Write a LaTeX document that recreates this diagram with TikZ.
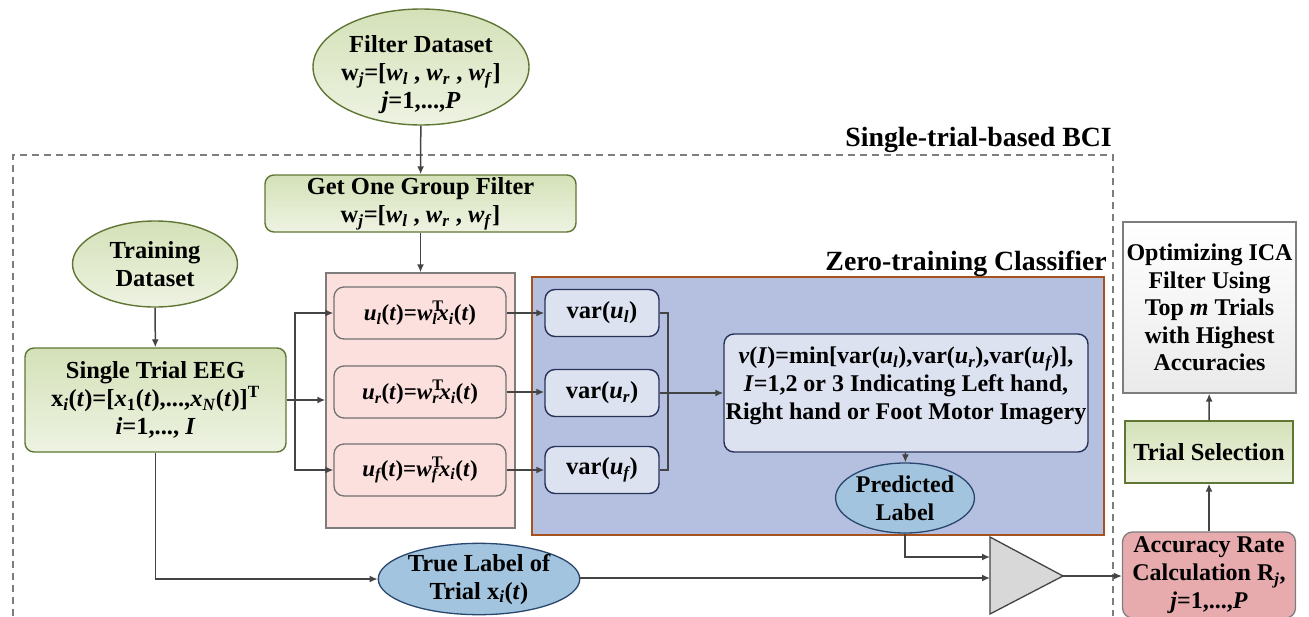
\documentclass[tikz,border=0pt]{standalone}
\usepackage{fontspec}
\setmainfont{Liberation Serif}
\usetikzlibrary{shapes.geometric,arrows.meta,calc}

\definecolor{olivedraw}{RGB}{96,118,52}
\definecolor{greentop}{RGB}{212,225,184}
\definecolor{greenbot}{RGB}{238,243,226}
\definecolor{pinkfill}{RGB}{252,224,222}
\definecolor{graydraw}{RGB}{125,125,125}
\definecolor{bluefill}{RGB}{181,191,223}
\definecolor{browndraw}{RGB}{165,82,30}
\definecolor{varfill}{RGB}{221,226,241}
\definecolor{navydraw}{RGB}{38,50,88}
\definecolor{labfill}{RGB}{163,196,222}
\definecolor{labdraw}{RGB}{40,70,110}
\definecolor{cmpfill}{RGB}{216,216,216}
\definecolor{accfill}{RGB}{232,171,173}
\definecolor{optbot}{RGB}{234,234,234}
\definecolor{linecol}{RGB}{68,68,68}

\newcommand\sbs[1]{\textsubscript{#1}}
\newcommand\sps[1]{\textsuperscript{#1}}
\newcommand\wsubT[1]{\textit{w}\makebox[0pt][l]{\sps{T}}\sbs{\textit{#1}}}

\tikzset{
  base/.style={align=center, inner sep=0pt, font=\fontsize{24.5}{28}\selectfont\bfseries},
  greenbox/.style={base, rectangle, rounded corners=9pt, draw=olivedraw, line width=1.4pt,
    top color=greentop, bottom color=greenbot},
  greenell/.style={base, ellipse, draw=olivedraw, line width=1.4pt,
    top color=greentop, bottom color=greenbot},
  ubox/.style={base, rectangle, rounded corners=10pt, draw=graydraw!90!black, line width=1.3pt,
    fill=pinkfill, font=\fontsize{23}{28}\selectfont\bfseries},
  varbox/.style={base, rectangle, rounded corners=10pt, draw=navydraw, line width=1.4pt, fill=varfill},
  labell/.style={base, ellipse, draw=labdraw, line width=1.3pt, fill=labfill},
  titletxt/.style={inner sep=0pt, font=\fontsize{27.8}{32}\selectfont\bfseries},
  arr/.style={draw=linecol, line width=1.5pt, -{Latex[length=8pt,width=7pt]}},
  wire/.style={draw=linecol, line width=1.5pt},
}

\begin{document}
\begin{tikzpicture}[x=1pt,y=-1pt]
\useasboundingbox (0,0) rectangle (1309,616);

% outer dashed frame of the single-trial BCI
\draw[graydraw, line width=1.3pt, dash pattern=on 7pt off 5pt]
  (13,616) -- (13,155) -- (1113,155) -- (1113,616);
\node[titletxt, anchor=east] (bcititle) at (1112,140) {Single-trial-based BCI};

% filter dataset and filter selection
\node[greenell, minimum width=216pt, minimum height=116pt] (filterds) at (421,67) {};
\node[base] (filtertxt) at (421,75)
  {Filter Dataset\\ w\sbs{\textit{j}}=[\textit{w}\sbs{\textit{l}} , \textit{w}\sbs{\textit{r}} , \textit{w}\sbs{\textit{f}}]\\ \textit{j}=1,...,\textit{P}};
\node[greenbox, minimum width=311pt, minimum height=57pt] (getone) at (420.5,203.5)
  {Get One Group Filter\\ w\sbs{\textit{j}}=[\textit{w}\sbs{\textit{l}} , \textit{w}\sbs{\textit{r}} , \textit{w}\sbs{\textit{f}}]};

% training data
\node[greenell, minimum width=165pt, minimum height=86pt] (trainds) at (155,264)
  {Training\\ Dataset};
\node[greenbox, minimum width=261pt, minimum height=104pt] (eeg) at (155.5,400)
  {Single Trial EEG\\
   x\sbs{\textit{i}}(\textit{t})=[\textit{x}\sbs{1}(\textit{t}),...,\textit{x}\sbs{\textit{N}}(\textit{t})]\sps{T}\\
   \textit{i}=1,..., \textit{I}};

% spatial filtering stage
\node[rectangle, draw=graydraw, line width=1.3pt, fill=pinkfill,
      minimum width=189pt, minimum height=255pt, inner sep=0pt] (pinkbox) at (420.5,400.5) {};
\node[ubox, minimum width=172pt, minimum height=52pt] (ul) at (420,313)
  {\textit{u\sbs{l}}(\textit{t})=\wsubT{l}\textit{x\sbs{i}}(\textit{t})};
\node[ubox, minimum width=172pt, minimum height=52pt] (ur) at (420,392)
  {\textit{u\sbs{r}}(\textit{t})=\wsubT{r}\textit{x\sbs{i}}(\textit{t})};
\node[ubox, minimum width=172pt, minimum height=52pt] (uf) at (420,470)
  {\textit{u\sbs{f}}(\textit{t})=\wsubT{f}\textit{x\sbs{i}}(\textit{t})};

% zero-training classifier
\node[rectangle, draw=browndraw, line width=1.4pt, fill=bluefill,
      minimum width=572pt, minimum height=258pt, inner sep=0pt] (zerobox) at (818,406) {};
\node[titletxt, anchor=east] (zerotitle) at (1107,264) {Zero-training Classifier};

\node[varbox, minimum width=114pt, minimum height=47pt] (vl) at (602,313)
  {var(\textit{u\sbs{l}})};
\node[varbox, minimum width=114pt, minimum height=47pt] (vr) at (602,393)
  {var(\textit{u\sbs{r}})};
\node[varbox, minimum width=114pt, minimum height=47pt] (vf) at (602,470)
  {var(\textit{u\sbs{f}})};

\node[varbox, minimum width=364pt, minimum height=118pt] (big) at (906,393) {};
\node[base, font=\fontsize{24}{28}\selectfont\bfseries] (bigtxt) at (906,386)
  {\textit{v}(\textit{I})=min[var(\textit{u\sbs{l}}),var(\textit{u\sbs{r}}),var(\textit{u\sbs{f}})],\\
   \textit{I}=1,2 or 3 Indicating Left hand,\\
   Right hand or Foot Motor Imagery};

\node[labell, minimum width=128pt, minimum height=70pt,
      font=\fontsize{24}{28}\selectfont\bfseries] (pred) at (905,498)
  {Predicted\\ Label};

% true label and comparison
\node[labell, minimum width=190pt, minimum height=67pt] (truelab) at (479,579)
  {True Label of\\ Trial x\sbs{\textit{i}}(\textit{t})};

\coordinate (cmpA) at (990,537);
\coordinate (cmpB) at (990,614);
\coordinate (cmpout) at (1063,576);
\coordinate (cmpin1) at (990,557);
\coordinate (cmpin2) at (990,578);
\draw[draw=linecol, line width=1.3pt, fill=cmpfill, line join=miter] (cmpA) -- (cmpout) -- (cmpB) -- cycle;

% right-hand column
\node[base, rectangle, rounded corners=10pt, draw=graydraw, line width=1.3pt, fill=accfill,
      minimum width=173pt, minimum height=86pt, font=\fontsize{24}{28}\selectfont\bfseries] (acc) at (1209,575)
  {Accuracy Rate\\ Calculation R\sbs{\textit{j}},\\ \textit{j}=1,...,\textit{P}};
\node[greenbox, rounded corners=0pt, minimum width=168pt, minimum height=62pt] (trialsel) at (1209,452)
  {Trial Selection};
\node[base, rectangle, draw=graydraw, line width=1.3pt, top color=white, bottom color=optbot,
      minimum width=173pt, minimum height=171pt, font=\fontsize{24}{27.5}\selectfont\bfseries] (optim) at (1209.5,307.5)
  {Optimizing ICA\\ Filter Using\\ Top \textit{m} Trials\\ with Highest\\ Accuracies};

% connectors
\draw[arr] (filterds) -- (getone);
\draw[arr] (getone) -- (pinkbox);
\draw[arr] (trainds) -- (eeg);
\coordinate (split) at (295,400);
\draw[wire] (eeg.east) -- (split);
\draw[arr] (split) |- (ul.west);
\draw[arr] (split) |- (uf.west);
\draw[arr] (split) -- (pinkbox.west |- split);
\draw[arr] (ul) -- (vl);
\draw[arr] (ur.east) -- (vr.west |- ur.east);
\draw[arr] (uf) -- (vf);
\coordinate (merge) at (668,393);
\draw[wire] (vl.east) -| (merge);
\draw[wire] (vf.east) -| (merge);
\draw[arr] (vr.east) -- (big.west);
\draw[arr] (big) -- (pred);
\draw[arr] (pred.south) |- (cmpin1);
\draw[arr] (eeg.south) |- (truelab.west);
\draw[arr] (truelab.east |- cmpin2) -- (cmpin2);
\draw[arr] (cmpout) -- (acc.west |- cmpout);
\draw[arr] (acc) -- (trialsel);
\draw[arr] (trialsel) -- (optim);
\end{tikzpicture}
\end{document}
